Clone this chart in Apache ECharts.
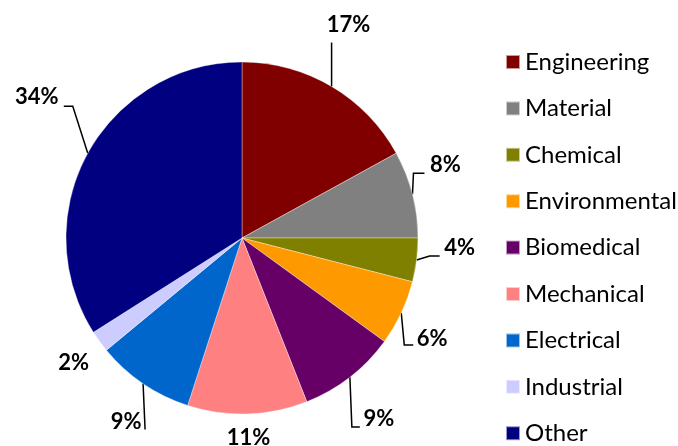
<!DOCTYPE html>
<html>
<head>
<meta charset="utf-8">
<script src="https://cdn.jsdelivr.net/npm/echarts@6/dist/echarts.min.js"></script>
<style>
  html, body { margin: 0; padding: 0; background: #fff; }
  #chart { width: 678px; height: 446px; }
</style>
</head>
<body>
<div id="chart"></div>
<script>
// Share of students by field of study (percent)
const categories = ['Engineering', 'Material', 'Chemical', 'Environmental', 'Biomedical',
                    'Mechanical', 'Electrical', 'Industrial', 'Other'];
const shares = [17, 8, 4, 6, 9, 11, 9, 2, 34];
const colors = ['#800000', '#808080', '#808000', '#FF9900', '#660066',
                '#FF8080', '#0066CC', '#CCCCFF', '#000080'];

// Pie geometry
const CX = 242, CY = 238, R = 176;

// Label placement relative to the slice's outer edge at its mid angle:
// text centre offset, and optional leader-line bends (same reference point).
const labelPlacement = [
  { text: [17, -62], line: [[0, -44]] },
  { text: [33, -29], line: [[1, -21], [12, -21]] },
  { text: [43, -12], line: [[13, -4], [23, -4]] },
  { text: [31, 26], line: [[3, 32], [12, 32]] },
  { text: [29, 42], line: [[2, 50], [10, 50]] },
  { text: [1, 24], line: null },
  { text: [-17, 38], line: [[2, 46]] },
  { text: [-26, 21], line: null },
  { text: [-51, -56], line: [[-15, -47], [-24, -47]] }
];

const total = shares.reduce((a, b) => a + b, 0);
function edgePoint(i) {
  let before = 0;
  for (let k = 0; k < i; k++) before += shares[k];
  const theta = (before + shares[i] / 2) / total * 2 * Math.PI; // clockwise from 12 o'clock
  return [CX + R * Math.sin(theta), CY - R * Math.cos(theta)];
}

const chart = echarts.init(document.getElementById('chart'), null, { renderer: 'canvas' });

const data = categories.map((name, i) => ({
  name: name,
  value: shares[i],
  itemStyle: { color: colors[i] }
}));

chart.setOption({
  animation: false,
  backgroundColor: '#ffffff',
  legend: {
    orient: 'vertical',
    left: 505,
    top: 50,
    padding: 0,
    itemWidth: 14,
    itemHeight: 14,
    itemGap: 22.4,
    icon: 'rect',
    textStyle: { fontFamily: 'Lato', fontSize: 24, color: '#000' },
    data: categories
  },
  series: [{
    type: 'pie',
    center: [CX, CY],
    radius: [0, R],
    startAngle: 90,
    clockwise: true,
    data: data,
    itemStyle: { borderColor: 'rgba(255,255,255,0.6)', borderWidth: 0.6 },
    label: {
      show: true,
      position: 'outside',
      formatter: '{c}%',
      fontFamily: 'Lato',
      fontWeight: 'bold',
      fontSize: 22,
      color: '#000'
    },
    labelLine: {
      show: true,
      length: 14,
      length2: 8,
      lineStyle: { color: '#000', width: 1.5 }
    },
    labelLayout: function (params) {
      const i = params.dataIndex;
      const p = labelPlacement[i];
      const a = edgePoint(i);
      const pts = p.line
        ? [a].concat(p.line.map(d => [a[0] + d[0], a[1] + d[1]]))
        : [a, a];
      if (pts.length === 2) pts.push(pts[1]);
      return {
        x: a[0] + p.text[0],
        y: a[1] + p.text[1],
        align: 'center',
        verticalAlign: 'middle',
        labelLinePoints: p.line ? pts : [a, a, a]
      };
    },
    emphasis: { disabled: true }
  }]
});
</script>
</body>
</html>
